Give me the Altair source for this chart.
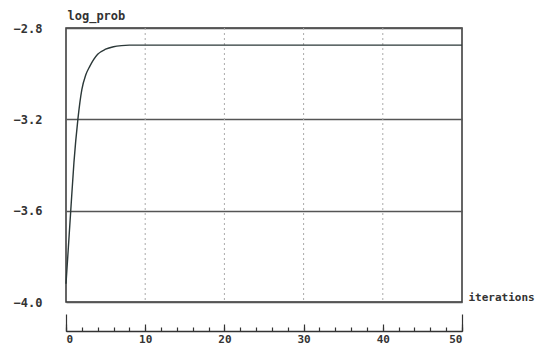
import altair as alt
import pandas as pd

# curve
iterations = [0, 0.3, 0.6, 1, 1.5, 2, 2.5, 3, 4, 5, 6, 7, 8, 10, 20, 30, 40, 50]
log_prob = [-3.92, -3.76, -3.60, -3.39, -3.20, -3.07, -3.005, -2.968, -2.915,
            -2.893, -2.882, -2.877, -2.875, -2.875, -2.875, -2.875, -2.875, -2.875]

y_ticks = [-4.0, -3.6, -3.2, -2.8]
x_labels = [0, 10, 20, 30, 40, 50]
x_minor = list(range(0, 51, 2))
x_major = [0, 10, 20, 30, 40, 50]
x_ends = [0, 50]
x_grid = [10, 20, 30, 40]

df = pd.DataFrame({"it": iterations, "lp": log_prob})
grid_df = pd.DataFrame({"it": x_grid})

FONT = "DejaVu Sans Mono"
DARK = "#333333"

xscale = alt.Scale(domain=[0, 50], nice=False, zero=False)
yscale = alt.Scale(domain=[-4.0, -2.8], nice=False, zero=False)

y_axis = alt.Axis(values=y_ticks, format=".1f", ticks=False, domain=False,
                  grid=True, gridColor="#555555", gridWidth=1.5,
                  labelPadding=24, labelFont=FONT, labelFontSize=12,
                  labelColor=DARK, labelFontWeight="bold",
                  title="log_prob", titleAngle=0, titleAlign="left",
                  titleBaseline="middle", titleX=1, titleY=-13,
                  titleFont=FONT, titleFontSize=12, titleColor=DARK,
                  titleFontWeight="bold")

AX_OFF = 29  # detached x axis below the plot


def top_axis(vals, size, domain):
    return alt.Axis(orient="top", offset=-(274 + AX_OFF), values=vals,
                    labels=False, tickSize=size, tickColor=DARK, tickWidth=1.2,
                    domain=domain, domainColor=DARK, domainWidth=1.5,
                    grid=False, title=None)


line = alt.Chart(df).mark_line(color="#2b3838", strokeWidth=1.4,
                               interpolate="monotone").encode(
    x=alt.X("it:Q", scale=xscale,
            axis=alt.Axis(orient="bottom", offset=AX_OFF, values=x_labels,
                          ticks=False, domain=False, grid=False,
                          labelPadding=2, labelFont=FONT, labelFontSize=11,
                          labelColor=DARK, labelFontWeight="bold",
                          title="iterations", titleX=402, titleY=-(AX_OFF + 5),
                          titleAlign="left", titleBaseline="middle",
                          titleFont=FONT, titleFontSize=11, titleColor=DARK,
                          titleFontWeight="bold")),
    y=alt.Y("lp:Q", scale=yscale, axis=y_axis),
)

vgrid = alt.Chart(grid_df).mark_rule(color="#aaaaaa", strokeDash=[2, 3],
                                     strokeWidth=1).encode(
    x=alt.X("it:Q", scale=xscale, axis=top_axis(x_minor, 4, True)),
)

ghost1 = alt.Chart(df).mark_point(opacity=0).encode(
    x=alt.X("it:Q", scale=xscale, axis=top_axis(x_major, 7, False)),
    y=alt.Y("lp:Q", scale=yscale, axis=y_axis),
)
ghost2 = alt.Chart(df).mark_point(opacity=0).encode(
    x=alt.X("it:Q", scale=xscale, axis=top_axis(x_ends, 17, False)),
    y=alt.Y("lp:Q", scale=yscale, axis=y_axis),
)

chart = alt.layer(vgrid, line, ghost1, ghost2).resolve_axis(
    x="independent"
).properties(
    width=396, height=274,
    autosize=alt.AutoSizeParams(type="none"),
    padding={"left": 58, "top": 20, "right": 76, "bottom": 43},
    background="white",
).configure_view(stroke=DARK, strokeWidth=1.5)

chart.save("out.html", embed_options={"renderer": "svg", "actions": False})
